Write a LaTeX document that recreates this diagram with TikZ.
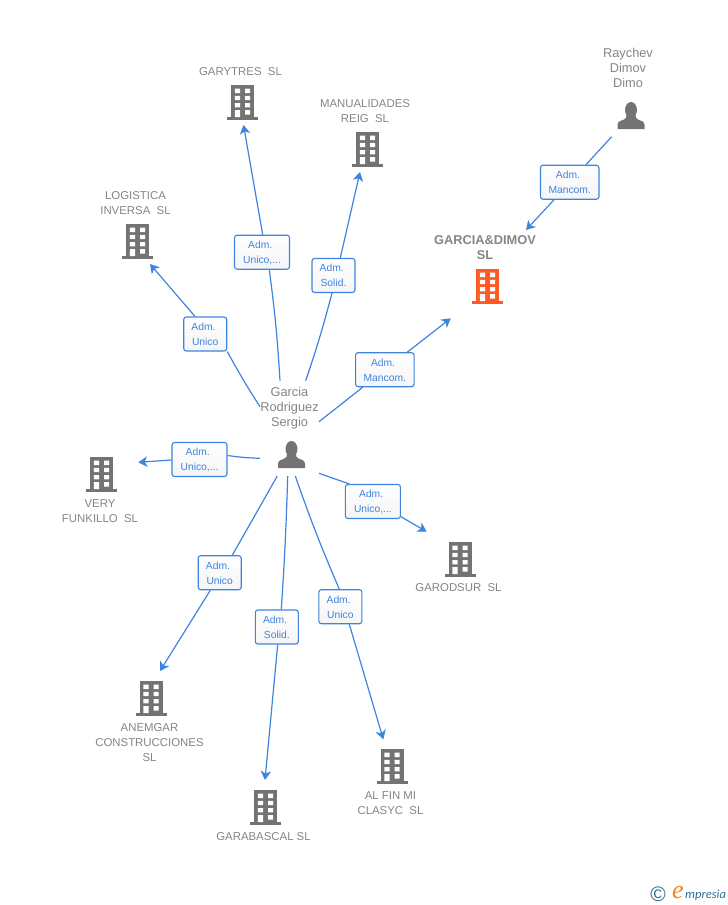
\documentclass[tikz,border=0pt]{standalone}
\usepackage{fontspec}
\setmainfont{Liberation Sans}
\newfontfamily\logofont{Liberation Serif}
\newfontfamily\logowordfont{Carlito}
\usetikzlibrary{arrows.meta}

\definecolor{linkblue}{HTML}{3F83E0}
\definecolor{icongray}{HTML}{737373}
\definecolor{textgray}{HTML}{858585}
\definecolor{mainorange}{HTML}{FF5A26}
\definecolor{logoteal}{HTML}{2F6F8F}
\definecolor{logoorange}{HTML}{F58220}

\newcommand{\adm}{Adm.\kern3.5pt}

\tikzset{
  link/.style={draw=linkblue,line width=1.2pt},
  arrowlink/.style={link,-{Stealth[length=9pt,width=10.5pt,inset=2.6pt]}},
  rolebox/.style={draw=linkblue,line width=1.1pt,rounded corners=2.5pt,top color=white,
    bottom color=black!4,text=linkblue,align=center,minimum height=34pt,inner sep=0pt,
    text height=22.6pt,text depth=0pt,font=\fontsize{10.3}{15}\selectfont},
  company/.style={text=textgray,align=center,inner sep=0pt,font=\fontsize{11.4}{15}\selectfont},
  manager/.style={company,font=\fontsize{12.8}{15}\selectfont},
  building/.pic={
    \fill[pic actions] (-11.5,0) rectangle (11.5,32);
    \fill[pic actions] (-15.5,32) rectangle (15.5,34.5);
    \fill[white] (-7.7,3.5) rectangle (-2.5,8) (2.5,3.5) rectangle (7.7,8);
    \fill[white] (-7.7,10.8) rectangle (-2.5,15.2) (2.5,10.8) rectangle (7.7,15.2);
    \fill[white] (-7.7,18) rectangle (-2.5,22.4) (2.5,18) rectangle (7.7,22.4);
    \fill[white] (-7.7,25) rectangle (-2.5,32) (2.5,25) rectangle (7.7,29.5);
  },
  person/.pic={
    \fill[icongray] (0,8) ellipse (6 and 8);
    \fill[icongray] (-13.5,27) -- (-13.5,23) .. controls (-13.5,19.5) and (-10,18.5) .. (-7,17.5)
      .. controls (-5,16.5) and (-4.5,15.5) .. (-4.5,13) -- (4.5,13)
      .. controls (4.5,15.5) and (5,16.5) .. (7,17.5)
      .. controls (10,18.5) and (13.5,19.5) .. (13.5,23) -- (13.5,27) -- cycle;
  }
}

\begin{document}
\begin{tikzpicture}[x=1pt,y=-1pt]
  \useasboundingbox (0,0) rectangle (728,905);

  % icons
  \pic[icongray] at (242.5,85) {building};
  \pic[icongray] at (367.5,132) {building};
  \pic[icongray] at (137.5,224) {building};
  \pic[mainorange] at (487.5,269) {building};
  \pic[icongray] at (101.5,457) {building};
  \pic[icongray] at (460,542) {building};
  \pic[icongray] at (151,681) {building};
  \pic[icongray] at (265.5,790) {building};
  \pic[icongray] at (392,749) {building};
  \pic at (631,102) {person};
  \pic at (291.5,441) {person};

  % names
  \node[company] (garytres) at (240.5,71.8) {GARYTRES\ \ SL};
  \node[company] (manualidades) at (365,111.3) {MANUALIDADES\\REIG\ \ SL};
  \node[company] (logistica) at (135.5,203.3) {LOGISTICA\\INVERSA\ \ SL};
  \node[company,font=\fontsize{12.8}{15}\selectfont\bfseries] (garciadimov) at (485,248) {GARCIA\&DIMOV\\SL};
  \node[manager] (raychev) at (628,68) {Raychev\\Dimov\\Dimo};
  \node[manager] (garcia) at (289.5,408.5) {Garcia\\Rodriguez\\Sergio};
  \node[company] (very) at (100,511.3) {VERY\\FUNKILLO\ \ SL};
  \node[company] (garodsur) at (458.5,587.8) {GARODSUR\ \ SL};
  \node[company] (anemgar) at (149.5,742.8) {ANEMGAR\\CONSTRUCCIONES\\SL};
  \node[company] (garabascal) at (263.5,836.8) {GARABASCAL SL};
  \node[company] (alfin) at (390.5,803.3) {AL FIN MI\\CLASYC\ \ SL};

  % role boxes
  \node[rolebox,minimum width=58.5pt] (boxraychev) at (569.7,182.2) {\adm\\Mancom.};
  \node[rolebox,minimum width=58.5pt] (boxgarciadimov) at (384.8,369.7) {\adm\\Mancom.};
  \node[rolebox,minimum width=55pt] (boxgarytres) at (262,252.2) {\adm\\Unico,...};
  \node[rolebox,minimum width=43pt] (boxmanualidades) at (333.5,275.5) {\adm\\Solid.};
  \node[rolebox,minimum width=43pt] (boxlogistica) at (205.2,334) {\adm\\Unico};
  \node[rolebox,minimum width=55pt] (boxvery) at (199.5,459.5) {\adm\\Unico,...};
  \node[rolebox,minimum width=55pt] (boxgarodsur) at (372.9,501.5) {\adm\\Unico,...};
  \node[rolebox,minimum width=43pt] (boxanemgar) at (219.7,572.7) {\adm\\Unico};
  \node[rolebox,minimum width=43pt] (boxgarabascal) at (276.8,627) {\adm\\Solid.};
  \node[rolebox,minimum width=43pt] (boxalfin) at (340.4,606.7) {\adm\\Unico};

  % free ends of the connectors
  \coordinate (r0) at (611.7,136.7);
  \coordinate (r1) at (526,230);
  \coordinate (s1) at (319,421.7);
  \coordinate (e1) at (450.7,318.3);
  \coordinate (s2) at (280,380.7);
  \coordinate (e2) at (243.5,125);
  \coordinate (s3) at (305.7,380.7);
  \coordinate (e3) at (360,172);
  \coordinate (s4) at (260,406.7);
  \coordinate (e4) at (150,264);
  \coordinate (s5) at (260,458.3);
  \coordinate (e5) at (138.3,462.3);
  \coordinate (s6) at (319,473.3);
  \coordinate (e6) at (426.7,531.7);
  \coordinate (s7) at (277.3,476);
  \coordinate (e7) at (160,671);
  \coordinate (s8) at (287.7,476);
  \coordinate (e8) at (265,780);
  \coordinate (s9) at (295.3,476);
  \coordinate (e9) at (383.3,739.3);

  \draw[link] (r0) to ([xshift=16.3pt]boxraychev.north);
  \draw[arrowlink] ([xshift=-15.7pt]boxraychev.south) to (r1);
  \draw[link] (s1) to ([xshift=-22.1pt]boxgarciadimov.south);
  \draw[arrowlink] ([xshift=22.5pt]boxgarciadimov.north) to (e1);
  \draw[link,bend right=2] (s2) to ([xshift=7.3pt]boxgarytres.south);
  \draw[arrowlink] ([xshift=0.7pt]boxgarytres.north) to (e2);
  \draw[link,bend right=2] (s3) to ([xshift=-1.5pt]boxmanualidades.south);
  \draw[arrowlink] ([xshift=6.8pt]boxmanualidades.north) to (e3);
  \draw[link,bend left=2] (s4) to (boxlogistica.south east);
  \draw[arrowlink] ([xshift=-10.2pt]boxlogistica.north) to (e4);
  \draw[link,bend left=3] (s5) to ([yshift=4pt]boxvery.east);
  \draw[arrowlink] ([yshift=-0.5pt]boxvery.west) to (e5);
  \draw[link] (s6) to ([xshift=-23.6pt]boxgarodsur.north);
  \draw[arrowlink] ([yshift=-15.2pt]boxgarodsur.east) to (e6);
  \draw[link] (s7) to ([xshift=12.6pt]boxanemgar.north);
  \draw[arrowlink] ([xshift=-9.4pt]boxanemgar.south) to (e7);
  \draw[link,bend left=1] (s8) to ([xshift=4.5pt]boxgarabascal.north);
  \draw[arrowlink] ([xshift=0.9pt]boxgarabascal.south) to (e8);
  \draw[link,bend right=2] (s9) to ([xshift=-1.1pt]boxalfin.north);
  \draw[arrowlink] ([xshift=8.9pt]boxalfin.south) to (e9);

  % logo
  \node[inner sep=0pt,text=logoteal,font=\fontsize{21}{21}\selectfont] (copyright) at (658,894) {©};
  \node[anchor=base west,inner sep=0pt,text=logoorange,font=\logofont\itshape\fontsize{26}{26}\selectfont] (logoe) at (672,898.5) {e};
  \node[anchor=base west,inner sep=0pt,text=logoteal,font=\logowordfont\itshape\fontsize{12.5}{12.5}\selectfont] (logo) at (685,898.5) {mpresia};
\end{tikzpicture}
\end{document}
